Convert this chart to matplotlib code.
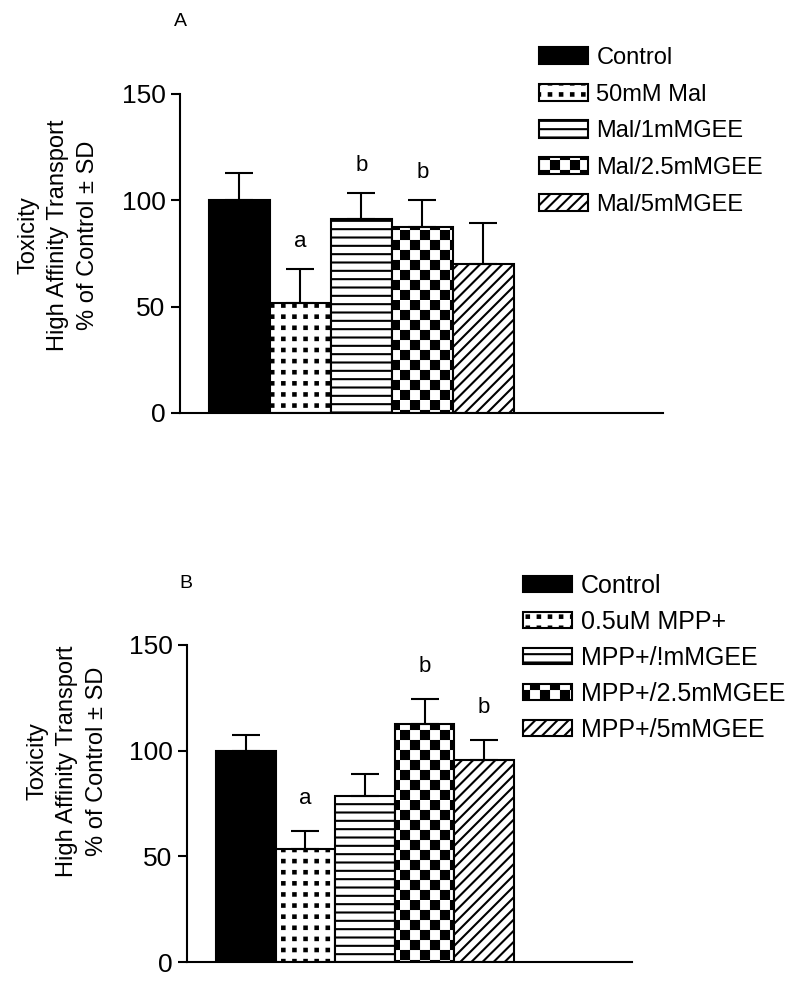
# plot.py

import warnings

import matplotlib

matplotlib.use("Agg")
import matplotlib.hatch as mhatch
import matplotlib.pyplot as plt
import numpy as np
from matplotlib.path import Path

warnings.filterwarnings("ignore")

# panel A data
labels_a = ["Control", "50mM Mal", "Mal/1mMGEE", "Mal/2.5mMGEE", "Mal/5mMGEE"]
means_a = [100, 51.5, 91, 87.5, 70]
sd_a = [13, 16, 12.5, 12.5, 19.5]
marks_a = ["", "a", "b", "b", ""]

# panel B data
labels_b = ["Control", "0.5uM MPP+", "MPP+/!mMGEE", "MPP+/2.5mMGEE", "MPP+/5mMGEE"]
means_b = [100, 53.5, 78.5, 112.5, 95.5]
sd_b = [7.5, 8.5, 10.5, 12, 9.5]
marks_b = ["", "a", "", "b", "b"]

yticks = [0, 50, 100, 150]


# custom hatches: square dots ("q") and checkerboard ("c")
class CellHatch(mhatch.HatchPatternBase):
    char = "c"
    n = 10
    size = 0.08
    checker = True

    def __init__(self, hatch, density):
        self.centres = []
        if self.char in hatch:
            for i in range(self.n):
                for j in range(self.n):
                    if self.checker and (i + j) % 2:
                        continue
                    self.centres.append(((i + 0.5) / self.n, (j + 0.5) / self.n))
        self.num_vertices = 5 * len(self.centres)

    def set_vertices_and_codes(self, vertices, codes):
        h = self.size / 2
        for k, (x, y) in enumerate(self.centres):
            vertices[5 * k:5 * k + 5] = [(x - h, y - h), (x + h, y - h), (x + h, y + h), (x - h, y + h), (x - h, y - h)]
            codes[5 * k:5 * k + 5] = [Path.MOVETO, Path.LINETO, Path.LINETO, Path.LINETO, Path.CLOSEPOLY]


class DotHatch(CellHatch):
    char = "q"
    n = 9
    size = 0.025
    checker = False


mhatch._hatch_types.append(CellHatch)
mhatch._hatch_types.append(DotHatch)

plt.rcParams["font.family"] = ["Liberation Sans", "DejaVu Sans"]
plt.rcParams["hatch.linewidth"] = 1.5
plt.rcParams["hatch.color"] = "black"

faces = ["black", "white", "white", "white", "white"]
hatches = [None, "q", "--", "c", "///"]


def draw_panel(fig, rect, xlim, labels, means, sd, marks, mark_off, letter, letter_xy, ylab_xy,
               leg_xy, leg_size, leg_h, leg_gap):
    ax = fig.add_axes(rect)
    x = np.arange(len(means))
    for i in range(len(means)):
        ax.bar(x[i], means[i], width=1.0, color=faces[i], edgecolor="black", hatch=hatches[i],
               linewidth=1.5, label=labels[i], zorder=2)
    ax.errorbar(x, means, yerr=[np.zeros(len(sd)), sd], fmt="none", ecolor="black",
                elinewidth=1.5, capsize=10, capthick=1.5, zorder=3)
    for i, m in enumerate(marks):
        if m:
            ax.text(x[i], means[i] + sd[i] + mark_off, m, ha="center", va="center", fontsize=16)

    ax.set_xlim(xlim)
    ax.set_ylim(0, 150)
    ax.set_yticks(yticks)
    ax.set_xticks([])
    ax.spines["top"].set_visible(False)
    ax.spines["right"].set_visible(False)
    ax.spines["left"].set_linewidth(1.5)
    ax.spines["bottom"].set_linewidth(1.5)
    ax.tick_params(axis="y", length=6.5, width=1.5, labelsize=19, pad=4)

    fig.text(letter_xy[0] / 800, 1 - letter_xy[1] / 986, letter, ha="center", va="center", fontsize=14)
    fig.text(ylab_xy[0] / 800, 1 - ylab_xy[1] / 986,
             "Toxicity\nHigh Affinity Transport\n% of Control \u00b1 SD",
             rotation=90, ha="center", va="center", multialignment="center", fontsize=17, linespacing=1.45)

    ax.legend(loc="upper left", bbox_to_anchor=(leg_xy[0] / 800, 1 - leg_xy[1] / 986),
              bbox_transform=fig.transFigure, frameon=False, fontsize=leg_size,
              handlelength=49 / (leg_size * 100 / 72), handleheight=leg_h, handletextpad=0.35,
              labelspacing=leg_gap, borderpad=0, borderaxespad=0)
    return ax


fig = plt.figure(figsize=(8, 9.86), dpi=100)

draw_panel(fig, [180 / 800, 1 - 413 / 986, 483 / 800, 319 / 986], (-0.975, 6.943),
           labels_a, means_a, sd_a, marks_a, 13, "A", (180, 22), (58, 235), (539, 47), 17, 0.75, 0.62)
draw_panel(fig, [187 / 800, 1 - 962 / 986, 445 / 800, 317 / 986], (-0.987, 6.48),
           labels_b, means_b, sd_b, marks_b, 15.5, "B", (186, 583), (67, 761), (523, 574), 18, 0.6, 0.48)

fig.savefig("out.png", dpi=100)
plt.close()
